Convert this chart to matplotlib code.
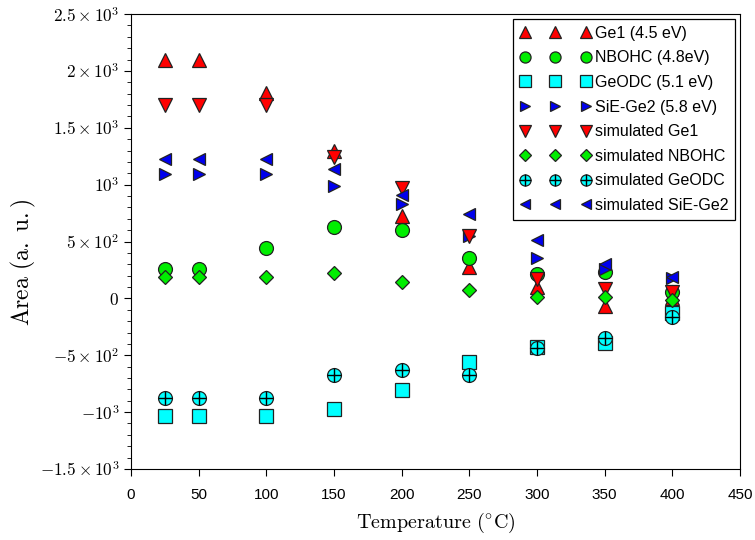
import matplotlib
matplotlib.use("Agg")
import matplotlib.pyplot as plt
from matplotlib.ticker import FixedLocator, FixedFormatter, MultipleLocator

plt.rcParams['mathtext.fontset'] = 'cm'

temps = [25, 50, 100, 150, 200, 250, 300, 350, 400]
ge1 = [2100, 2100, 1805, 1300, 725, 280, 100, -65, 0]
nbohc = [255, 255, 440, 630, 605, 352, 217, 228, 60]
geodc = [-1035, -1035, -1035, -970, -805, -562, -425, -395, -131]
sie_ge2 = [1090, 1090, 1090, 985, 830, 550, 355, 257, 175]
sim_ge1 = [1700, 1700, 1700, 1245, 970, 545, 170, 80, 55]
sim_nbohc = [185, 185, 185, 222, 140, 78, 15, 8, -12]
sim_geodc = [-878, -878, -878, -672, -630, -672, -432, -345, -160]
sim_sie_ge2 = [1225, 1225, 1225, 1135, 910, 742, 510, 300, 185]

labels = ["Ge1 (4.5 eV)", "NBOHC (4.8eV)", "GeODC (5.1 eV)", "SiE-Ge2 (5.8 eV)",
          "simulated Ge1", "simulated NBOHC", "simulated GeODC", "simulated SiE-Ge2"]

ytick_vals = [-1500, -1000, -500, 0, 500, 1000, 1500, 2000, 2500]
ytick_labels = [r'$-1.5\times10^{3}$', r'$-10^{3}$', r'$-5\times10^{2}$', r'$0$',
                r'$5\times10^{2}$', r'$10^{3}$', r'$1.5\times10^{3}$', r'$2\times10^{3}$',
                r'$2.5\times10^{3}$']

fig = plt.figure(figsize=(7.55, 5.4), dpi=100)
ax = fig.add_axes([0.1735, 0.1315, 0.8065, 0.8425])

ec = '#222222'
kw = dict(linestyle='none', markeredgecolor=ec, markeredgewidth=0.9)
h1, = ax.plot(temps, ge1, marker='^', color='red', markersize=10, **kw)
h2, = ax.plot(temps, nbohc, marker='o', color='#00ee00', markersize=10, **kw)
h3, = ax.plot(temps, geodc, marker='s', color='cyan', markersize=10, **kw)
h4, = ax.plot(temps, sie_ge2, marker='>', color='#0000ee', markersize=8.5, **kw)
h5, = ax.plot(temps, sim_ge1, marker='v', color='red', markersize=10, **kw)
h6, = ax.plot(temps, sim_nbohc, marker='D', color='#00ee00', markersize=7.5, **kw)
h7a, = ax.plot(temps, sim_geodc, marker='o', color='cyan', markersize=10, **kw)
h7b, = ax.plot(temps, sim_geodc, marker='+', color='black', markersize=10,
               linestyle='none', markeredgewidth=1.0, markeredgecolor='black')
h8, = ax.plot(temps, sim_sie_ge2, marker='<', color='#0000ee', markersize=8.5, **kw)

ax.set_xlim(0, 450)
ax.set_ylim(-1500, 2500)
ax.xaxis.set_major_locator(MultipleLocator(50))
ax.yaxis.set_major_locator(FixedLocator(ytick_vals))
ax.yaxis.set_major_formatter(FixedFormatter(ytick_labels))
ax.yaxis.set_minor_locator(MultipleLocator(100))
ax.tick_params(axis='y', which='major', direction='out', length=5, labelsize=12.3)
ax.tick_params(axis='y', which='minor', direction='out', length=3)
ax.tick_params(axis='x', which='major', direction='out', length=5, pad=9, labelsize=11)
for lab in ax.get_xticklabels():
    lab.set_fontfamily('Liberation Sans')

ax.set_xlabel(r'$\mathrm{Temperature\ (^{\circ}C)}$', fontsize=14.5, labelpad=6)
ax.set_ylabel(r'$\mathrm{Area\ (a.\ u.)}$', fontsize=17)
ax.yaxis.set_label_coords(-0.152, 0.455)

leg = ax.legend([h1, h2, h3, h4, h5, h6, (h7a, h7b), h8], labels,
                loc='upper right', numpoints=3, borderaxespad=0.3, fancybox=False,
                edgecolor='black', framealpha=1, handlelength=4.42, handletextpad=0.26,
                labelspacing=0.6, borderpad=0.44, markerscale=0.8,
                prop={'family': 'Liberation Sans', 'size': 11.5})
leg.get_frame().set_linewidth(0.9)

fig.savefig('out.png', dpi=100)
